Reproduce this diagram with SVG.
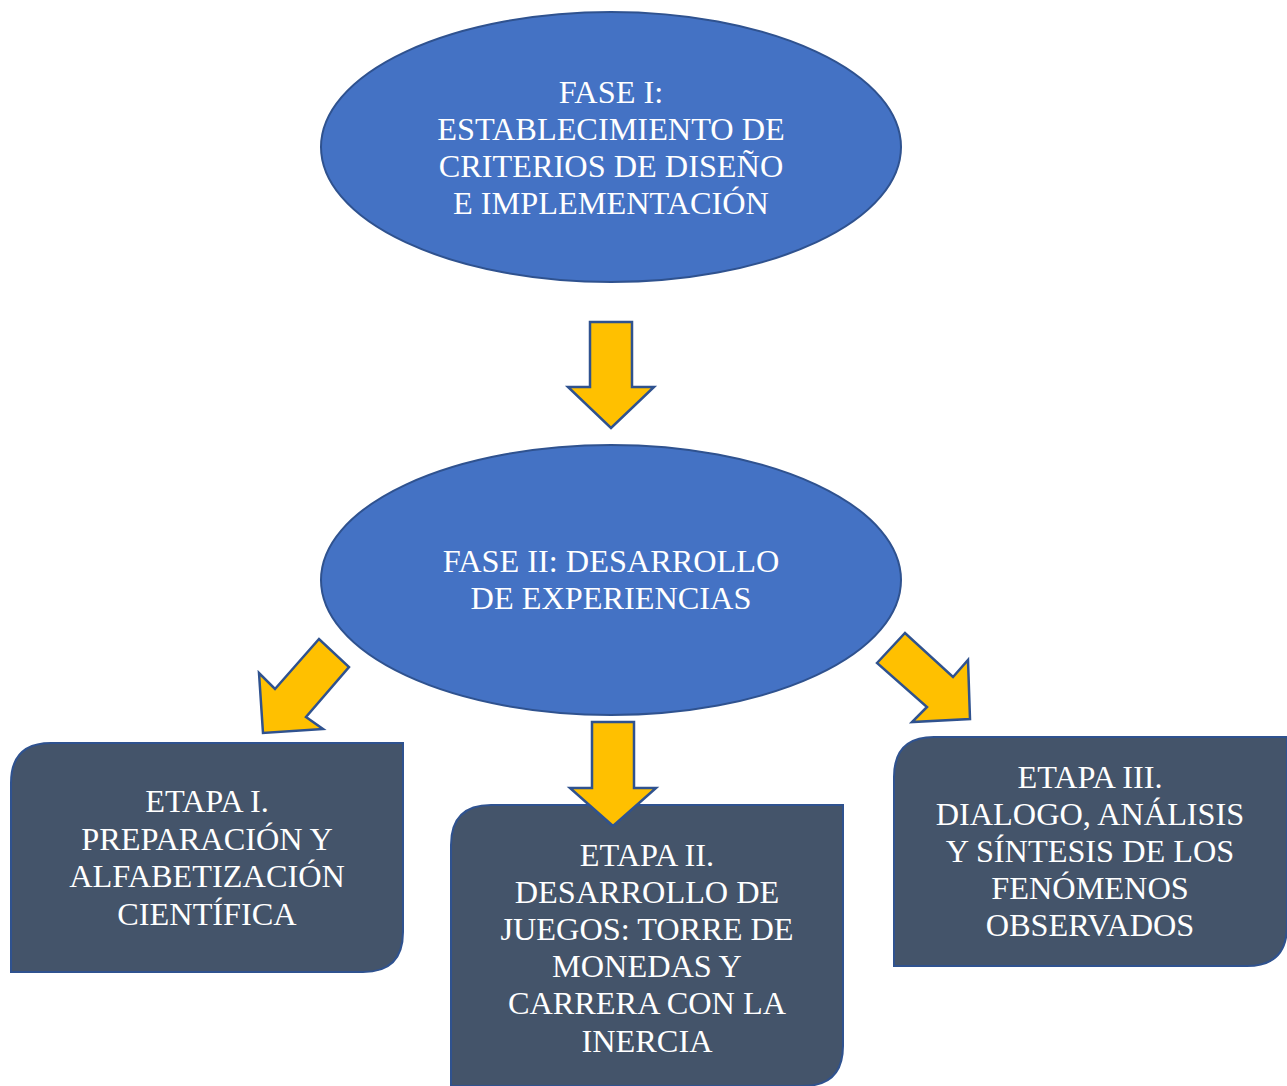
<svg xmlns="http://www.w3.org/2000/svg" width="1287" height="1086" viewBox="0 0 1287 1086">
<style>
.ell{fill:#4472C4;stroke:#2F528F;stroke-width:2}
.box{fill:#44546A;stroke:#2F528F;stroke-width:2}
.arr{fill:#FFC000;stroke:#2F528F;stroke-width:2.5;stroke-linejoin:miter}
text{font-family:"Liberation Serif","Times New Roman",serif;font-size:32.3px;fill:#FFFFFF;text-anchor:middle}
</style>
<rect width="1287" height="1086" fill="#FFFFFF"/>
<g id="fase1">
<ellipse class="ell" cx="611" cy="147" rx="290" ry="135"/>
<text x="611" y="103">FASE I:</text>
<text x="611" y="140">ESTABLECIMIENTO DE</text>
<text x="611" y="177">CRITERIOS DE DISEÑO</text>
<text x="611" y="214">E IMPLEMENTACIÓN</text>
</g>
<g id="fase2">
<ellipse class="ell" cx="611" cy="580" rx="290" ry="135"/>
<text x="611" y="572">FASE II: DESARROLLO</text>
<text x="611" y="609">DE EXPERIENCIAS</text>
</g>
<g id="connectors">
<polygon class="arr" points="590,322 632,322 632,387 654,387 611,428 568,387 590,387"/>
<polygon class="arr" points="263,733 259,673 275,689 319,639 349,667 306,717 323,729"/>
<polygon class="arr" points="877,663 905,633 953,677 968,660 970,719 912,722 927,707"/>
</g>
<g id="etapa1">
<path class="box" d="M11,972 L11,783 Q11,743 51,743 L403,743 L403,932 Q403,972 363,972 Z"/>
<text x="207" y="812">ETAPA I.</text>
<text x="207" y="850">PREPARACIÓN Y</text>
<text x="207" y="887">ALFABETIZACIÓN</text>
<text x="207" y="925">CIENTÍFICA</text>
</g>
<g id="etapa2">
<path class="box" d="M451,1090 L451,845 Q451,805 491,805 L843,805 L843,1046 Q843,1086 803,1086 L451,1086 Z"/>
<text x="647" y="866">ETAPA II.</text>
<text x="647" y="903">DESARROLLO DE</text>
<text x="647" y="940">JUEGOS: TORRE DE</text>
<text x="647" y="977">MONEDAS Y</text>
<text x="647" y="1014">CARRERA CON LA</text>
<text x="647" y="1052">INERCIA</text>
</g>
<g id="etapa3">
<path class="box" d="M894,966 L894,777 Q894,737 934,737 L1287,737 L1287,926 Q1287,966 1247,966 Z"/>
<text x="1090" y="788">ETAPA III.</text>
<text x="1090" y="825">DIALOGO, ANÁLISIS</text>
<text x="1090" y="862">Y SÍNTESIS DE LOS</text>
<text x="1090" y="899">FENÓMENOS</text>
<text x="1090" y="936">OBSERVADOS</text>
</g>
<g id="connectors-front">
<polygon class="arr" points="592,722 634,722 634,788 656,788 613,826 570,788 592,788"/>
</g>
</svg>
